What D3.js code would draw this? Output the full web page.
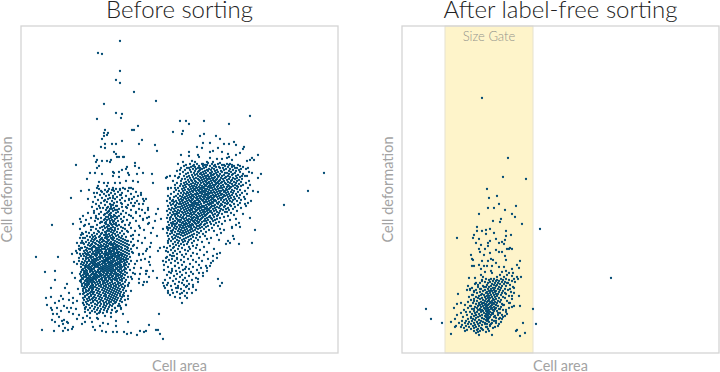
<!DOCTYPE html>
<html><head><meta charset="utf-8">
<script src="https://cdn.jsdelivr.net/npm/d3@7"></script>
<style>html,body{margin:0;background:#fff}svg{display:block}text{font-family:Lato,sans-serif}</style>
</head><body><svg id="c" width="720" height="372"></svg>
<script>
const titles=["Before sorting","After label-free sorting"];
const xLabel="Cell area", yLabel="Cell deformation", gateLabel="Size Gate";
const areaDomain=[0,317], deformDomain=[0,327];
const gateRange=[43,131];
const beforeSparse=[[99,312],[77,300],[81,299],[99,282],[95,273],[99,270],[113,261],[135,252],[83,249],[95,240],[101,239],[100,235],[76,234],[229,237],[159,232],[165,232],[168,229],[183,232],[208,229],[117,227],[111,223],[113,223],[84,223],[83,220],[87,220],[86,218],[83,217],[81,214],[162,222],[161,219],[152,221],[183,219],[179,217],[195,217],[199,214],[121,213],[101,212],[118,209],[91,209],[95,209],[84,209],[182,210],[189,210],[203,209],[208,209],[213,211],[215,208],[134,208],[136,202],[80,206],[84,205],[93,201],[95,199],[96,196],[98,196],[102,196],[103,196],[73,197],[76,193],[75,191],[81,192],[86,192],[89,191],[90,193],[55,188],[114,190],[114,187],[106,186],[105,184],[118,185],[78,187],[76,185],[101,183],[92,181],[98,181],[93,180],[69,180],[74,180],[81,179],[92,177],[98,176],[107,180],[108,178],[116,179],[122,180],[131,179],[66,174],[78,171],[83,170],[87,170],[94,170],[99,170],[105,172],[112,172],[117,171],[132,170],[77,167],[86,167],[92,165],[102,165],[110,165],[303,180],
[160,198],[168,201],[176,206],[181,205],[189,201],[192,202],[197,205],[201,201],[207,199],[208,196],[223,206],[222,204],[219,200],[215,198],[237,198],[231,195],[229,193],[233,193],[226,192],[211,193],[206,195],[201,194],[196,194],[189,195],[186,191],[177,198],[178,196],[168,197],[171,192],[174,191],[157,189],[162,191],[182,189],[187,190],[192,191],[199,190],[203,188],[211,188],[214,185],[227,185],[159,183],[166,185],[172,187],[179,185],[240,179],[231,180],[221,177],[224,177],[146,176],[149,177],[154,177],[145,175],[157,175],[237,175],[229,168],[216,167],[147,165],[154,165],
[287,162],[263,148],[50,155],[31,128],[52,129],[15,96],[37,96],[24,81],[34,82],[34,73],[30,65],[25,55],[30,56],[26,48],[30,45],[31,43],[36,45],[32,39],[36,39],[31,33],[34,31],[21,23],[33,22],[38,27],[41,32],[43,33],[46,31],[47,30],[42,29],[44,25],[42,22],[47,23],[51,24],[52,26],[40,57],[42,54],[44,65],[46,69],[48,60],[43,47],[46,45],[50,45],[55,44],[52,39],[56,34],[62,35],[61,29],[71,31],[72,26],[74,23],[79,27],[81,22],[85,21],[87,29],[95,32],[95,27],[92,21],[96,21],[103,21],[106,19],[110,20],[116,18],[119,22],[123,21],[125,22],[128,28],[107,31],[138,39],[135,23],[137,23],[139,19],[142,14],[102,39],[77,34],[82,30],[76,35],[69,35],[58,38],[48,41],[40,42],[38,36],[66,37],[84,37],[90,36],[64,31],[38,52],[34,50],[48,53],[52,50]];
const beforeExtra=[[60,162],[68,163],[67,154],[76,165],[81,161],[87,162],[92,163],[99,164],[108,165],[117,157],[122,154],[111,154],[114,150],[118,149],[123,152],[121,143],[127,143],[137,144],[135,139],[126,135],[122,134],[140,134],[134,132],[132,125],[128,130],[142,124],[136,117],[130,110],[126,104],[139,105],[143,106],[145,102],[147,112],[151,122],[147,125],[151,129],[149,155],[151,152],[154,147],[147,164],[156,139],[149,135],[146,125],
[59,134],[61,120],[59,115],[62,110],[55,102],[58,104],[51,99],[59,99],[53,91],[56,89],[51,80],[54,75],[59,72],[57,64],[59,59],[62,50],[64,45],[56,52],[52,55],[69,40],[76,39],[79,41],[86,42],[91,43],[94,45],[99,47],[107,54],[103,57],[107,67],[111,74],[112,80],[114,89],[118,99],[122,99],[120,93],[129,96],[128,91],[132,82],[126,82],[125,79],[118,70],[122,68],[126,71],[119,79],[136,75],[142,70],[143,67],[147,60],[142,92],[145,95],[137,102],[151,82],[154,87],[157,65],[161,50],[166,55],[161,60],[171,60],[166,67],[172,68],[177,74],[182,80],[189,87],[197,74],[201,70],[196,95],[192,92],[186,85],[196,99],[209,110],[207,112],[213,114],[218,109],[231,110],[234,123],[219,126],[229,135],[215,128],[211,125],[224,149],[227,150],[237,161],[152,105],[151,97],[156,94],[164,84],
[73,160],[88,158],[92,155],[83,152],[100,150],[95,147],[105,146],[79,145],[88,142],[100,139],[110,137],[75,135],[80,131],[95,128],[102,125],[106,122],[84,118],[70,126],[72,116],[106,112],[113,108],[116,105],[112,118],[119,125],[115,140],[120,160],[108,153],[112,147],[100,158],[90,148],[96,136],[102,132],[108,128],[73,140],[64,128],[68,120],[62,115],[56,110],[60,105],[65,99],[112,100],[116,92],[113,85],[110,76],[108,70],[110,62],[105,48],[100,44],[95,41],[90,40]];
const beforeRows=[
[189,[169,176,181,191,197,206,209]],
[188,[165,173,184,186,194,201,208,217]],
[187,[163,178,182,189,193,204,213,219]],
[186,[170,174,185,195,198,207,211,222]],
[185,[160,168,177,183,191,199,202,216]],
[184,[172,175,181,188,193,205,209,220,225]],
[183,[164,169,179,186,190,196,203,212,218]],
[182,[156,174,178,184,187,194,200,208,215]],
[181,[162,170,177,182,191,197,201,210,219,228]],
[180,[167,173,180,185,189,195,204,206,214]],
[179,[159,165,176,179,183,190,193,199,208,212,222]],
[178,[171,174,181,187,192,196,203,211,217]],
[177,[163,168,177,184,186,190,198,201,207,215,226]],
[176,[158,166,172,179,182,188,194,197,205,209,219]],
[175,[169,175,180,185,191,193,200,204,212,216]],
[174,[161,164,173,177,183,187,189,196,202,208,214,221]],
[173,[167,170,178,181,186,192,195,199,206,211,218]],
[172,[152,160,171,174,179,184,190,193,198,203,210,216,228]],
[171,[165,168,175,182,185,188,194,197,201,207,213,220]],
[170,[156,163,172,177,180,187,191,196,200,204,209,215,225]],
[169,[160,166,170,174,183,186,189,195,198,205,211,218]],
[168,[154,164,168,176,179,184,192,194,202,207,214,222]],
[167,[159,162,171,173,181,185,188,190,197,200,208,212,220]],
[166,[165,169,175,178,183,187,193,196,203,206,210,217]],
[165,[150,157,163,172,176,180,182,189,191,199,201,209,214,227]],
[164,[78,88,95,104,112,161,167,170,174,179,184,186,194,197,205,208,216]],
[163,[84,91,99,155,164,168,173,177,181,188,192,195,202,206,211,219]],
[162,[80,93,107,158,162,171,175,178,183,185,190,198,200,204,213,224,232]],
[161,[86,97,115,153,166,169,172,180,182,187,193,196,203,207,210,217]],
[160,[76,90,101,160,163,167,176,179,184,189,191,194,199,205,212,221]],
[159,[83,94,110,150,157,165,170,174,177,181,186,188,197,201,208,215,226]],
[158,[79,88,99,120,162,168,172,175,183,185,192,195,200,203,206,211,219]],
[157,[85,92,105,147,155,159,166,171,178,180,187,190,194,198,204,209,216]],
[156,[74,96,113,153,161,164,169,173,176,182,184,189,193,196,202,207,213,223]],
[155,[81,89,101,157,163,167,170,175,179,186,188,191,199,201,210,218]],
[154,[87,94,108,125,149,160,165,172,177,180,183,187,192,197,205,208,214,224]],
[153,[77,84,99,152,158,162,168,171,176,181,185,190,194,200,203,212,220]],
[152,[91,104,116,146,155,161,166,169,174,178,182,188,193,195,206,209,216,230]],
[151,[72,86,96,153,159,164,170,173,179,184,186,191,198,202,211]],
[150,[80,93,110,149,156,162,167,171,175,177,183,189,192,196,204,207,219]],
[149,[75,89,101,122,152,158,160,165,172,174,180,187,190,197,200,206,213]],
[148,[84,92,107,150,155,163,168,170,176,178,185,188,194,201,209,217]],
[147,[78,96,113,147,154,161,166,171,173,181,183,191,193,199,204,210,225]],
[146,[71,87,90,101,157,159,164,169,175,179,182,186,190,196,203,214]],
[145,[82,86,93,106,127,151,155,162,167,172,177,180,184,189,194,198,207,220]],
[144,[76,89,91,98,118,148,153,160,165,170,174,178,185,187,192,200,205,212]],
[143,[85,94,96,110,150,157,163,168,171,176,181,183,188,195,202,208]],
[142,[73,88,92,102,146,154,159,166,169,175,179,186,190,193,199,216]],
[141,[80,87,97,115,152,156,161,164,172,174,182,184,189,196,204,206]],
[140,[67,86,90,95,105,124,149,158,162,167,170,177,180,187,191,198,210]],
[139,[78,84,89,100,153,155,165,169,173,178,183,186,194,201,222]],
[138,[83,88,93,108,147,151,160,163,171,175,181,185,192,197,213]],
[137,[62,75,90,94,98,119,154,157,166,168,176,179,184,189,196,207]],
[136,[85,87,92,103,128,150,159,162,170,173,177,182,188,193,203]],
[135,[70,80,90,96,112,146,155,161,165,172,175,181,186,190,199]],
[134,[77,84,88,94,100,152,156,163,168,171,177,180,184,191,196,215]],
[133,[65,83,86,91,106,122,149,158,160,166,170,174,179,187,194,209]],
[132,[74,89,93,97,115,154,157,164,167,172,176,183,185,192,204]],
[131,[60,81,85,92,101,147,152,159,162,169,173,178,181,189,198]],
[130,[79,84,89,95,109,150,156,161,165,168,174,177,186,195,218]],
[129,[68,85,90,93,127,153,155,163,166,171,175,180,184,190,201]],
[128,[76,87,91,98,104,148,158,160,164,169,172,179,183,193]],
[127,[63,83,88,96,118,151,154,162,167,170,176,178,187,197]],
[126,[72,81,86,92,100,146,156,159,165,168,173,181,185,211]],
[125,[79,84,90,94,110,149,153,161,163,170,175,179,191]],
[124,[59,75,87,89,97,104,155,158,166,171,177,183,199]],
[123,[70,82,91,94,123,147,152,160,164,169,174,188,203]],
[122,[77,86,88,93,101,114,150,157,162,167,172,180,193]],
[121,[65,78,84,90,96,107,154,159,165,170,176,185]],
[120,[73,81,85,92,99,130,146,151,161,163,168,178,200]],
[119,[62,76,80,88,94,103,149,156,158,166,173,182]],
[118,[60,71,83,86,91,97,118,153,160,164,171,176,196]],
[117,[66,74,79,89,95,101,110,147,155,162,169,184,212]],
[116,[69,78,85,87,92,98,105,151,157,167,172,179]],
[115,[64,75,81,84,90,93,100,124,154,159,165,175,190]],
[114,[71,74,80,86,91,96,102,112,148,152,163,170,186]],
[113,[67,73,79,82,88,92,98,104,156,161,168,177,198]],
[112,[61,70,76,83,87,94,100,107,117,150,158,164,173]],
[111,[65,72,78,81,85,90,96,102,110,154,162,167,181]],
[110,[60,68,74,79,86,89,93,98,104,121,147,157,171,188]],
[109,[63,71,75,83,88,91,94,100,106,152,160,166,205]],
[108,[67,70,77,80,85,90,92,96,102,108,155,163,176]],
[107,[58,69,73,78,82,87,92,95,98,104,112,149,158,172]],
[106,[64,72,74,80,84,86,93,97,100,106,129,153,168,183]],
[105,[61,66,71,76,78,84,89,91,95,101,107,146,161,175]],
[104,[68,70,75,81,83,87,92,94,98,104,110,157,169,193]],
[103,[59,65,71,77,79,85,89,93,96,100,106,150,164,179]],
[102,[63,66,74,76,80,85,88,91,96,102,108,125,154,167]],
[101,[69,72,78,81,84,88,90,93,98,104,111,147,159,186]],
[100,[56,64,67,75,77,81,86,90,95,97,100,106,152,172,199]],
[99,[62,71,73,79,83,85,88,92,94,97,102,108,156,165,176]],
[98,[66,68,74,76,79,85,87,90,94,99,101,104,118,149,161,183]],
[97,[60,63,70,75,81,84,87,92,96,98,101,106,153,170,192]],
[96,[65,69,72,78,80,84,89,91,94,98,103,109,146,163]],
[95,[58,67,70,76,79,82,86,88,91,96,100,105,156,178]],
[94,[62,65,73,75,79,85,87,89,93,98,102,107,124,151,167,187]],
[93,[68,71,74,77,83,85,87,92,96,100,103,105,148,160,172]],
[92,[58,64,68,72,75,81,84,86,90,94,99,103,110,154,181]],
[91,[61,66,70,73,79,82,84,88,92,97,101,106,145,163,175]],
[90,[63,66,71,74,77,83,87,89,91,95,99,104,150,157,190]],
[89,[60,69,72,75,78,81,85,90,94,96,98,103,108,169]],
[88,[62,65,68,73,76,79,84,88,92,96,100,105,129,143,161,178]],
[87,[64,67,71,74,77,82,86,90,94,99,103,154,185]],
[86,[60,65,69,74,76,80,84,88,92,97,101,107,147,165,172]],
[85,[64,67,70,73,78,82,86,90,95,99,104,120,158,180]],
[84,[62,68,71,73,79,81,84,88,92,96,100,105,151,168]],
[83,[61,65,69,71,77,82,86,90,94,98,103,109,143,162,176]],
[82,[63,66,70,74,77,80,84,88,92,97,101,125,155,186]],
[81,[60,64,69,72,76,79,82,86,90,94,99,104,148,159,170]],
[80,[63,66,72,75,78,83,87,91,95,100,106,150,165,178]],
[79,[59,64,67,71,74,80,85,89,93,97,102,114,156,172]],
[78,[62,66,70,73,76,79,82,86,90,95,99,104,146,161]],
[77,[60,65,68,74,77,80,84,88,92,97,101,153,168,182]],
[76,[63,65,69,72,75,78,83,87,91,95,100,107,128,159]],
[75,[61,67,70,73,76,81,85,89,94,98,103,149,164,175]],
[74,[62,66,68,72,74,80,84,88,92,96,101,118,155]],
[73,[60,65,69,71,75,78,81,85,90,94,99,105,144,162,171]],
[72,[64,67,70,72,78,83,87,91,96,101,152,166]],
[71,[60,66,69,73,76,79,82,86,91,97,104,123,158,177]],
[70,[63,67,71,74,79,84,89,94,99,147,161]],
[69,[61,65,68,71,77,82,87,92,97,102,154,168]],
[68,[64,67,72,75,80,85,90,95,100,107,146,163]],
[67,[61,66,70,72,78,83,88,93,98,104,150,157,199]],
[66,[63,66,69,74,80,85,90,95,101,165,172]],
[65,[64,70,72,76,82,87,92,97,103,144,155]],
[64,[62,68,72,78,84,89,94,99,160,168]],
[63,[65,68,71,75,81,86,91,96,102,151,175]],
[62,[62,67,71,77,83,88,93,98,105,147,163]],
[61,[65,70,73,79,85,90,95,100,156]],
[60,[63,69,72,76,82,87,92,97,103,152,166]],
[59,[62,67,72,78,84,89,94,99,159]],
[58,[66,70,74,80,85,91,96,102,149]],
[57,[64,70,77,83,88,93,99,107,164]],
[56,[64,68,73,79,85,90,95,101,154]],
[55,[62,68,72,75,81,87,92,97,159]],
[54,[66,71,78,84,89,94,100]],
[53,[63,69,74,80,86,91,96,104]],
[52,[67,72,76,82,88,93,99]],
[51,[65,72,79,85,90,95,101]],
[50,[62,70,77,83,88,94]],
[49,[66,74,80,86,92,98]],
[48,[63,68,76,83,89,105]],
[47,[71,79,85,91,97]],
[46,[65,74,82,88]],
[45,[69,77,84,94,100]],
[44,[64,73,80,87]],
[43,[67,76,83,91]],
[42,[71,79,96]],
[41,[64,74,86]],
[40,[69,78,82]]];
const afterSparse=[[80,255],[106,195],[101,176],[124,174],[85,164],[95,157],[87,155],[97,149],[114,147],[86,145],[92,145],[103,143],[110,139],[77,139],[113,136],[99,134],[91,132],[98,131],[120,129],[138,124],[75,126],[75,122],[80,122],[84,123],[88,124],[92,120],[104,122],[109,118],[104,117],[72,118],[71,115],[55,115],[77,114],[84,119],[94,114],[103,113],[88,112],[86,110],[97,110],[100,111],[102,109],[74,110],[79,108],[77,104],[78,101],[86,107],[83,104],[94,103],[97,101],[100,101],[105,104],[107,104],[110,104],[108,105],[82,98],[88,100],[69,98],[70,94],[71,93],[103,97],[104,93],[118,92],[89,94],[91,93],[86,92],[94,90],[80,92],[77,88],[70,87],[72,87],[82,87],[85,87],[90,87],[97,86],[102,86],[110,84],[115,88],[117,85],[79,84],[83,81],[89,82],[104,82],[100,81],[107,80],[111,80],[73,75],[67,75],[79,78],[81,76],[90,80],[110,77],[115,76],[119,76],[98,78],[95,76],[102,76],[105,78],
[209,75],[131,44],[24,44],[29,34],[40,30],[134,29],[121,30],[123,20],[118,17],[115,23],[114,22],[49,19],[49,31],[53,34],[55,38],[52,45],[55,49],[59,50],[56,59],[117,57],[118,47],[105,39],[112,47],[110,57],[112,65],[116,74],[90,18],[77,18],[63,22],[53,26],[54,27],[66,67],[65,63],
[72,62],[76,68],[70,58],[78,64],[74,70],[80,72],[68,64],[76,55],[72,52],[79,58],[82,66],[77,49],[68,47],[72,44],[64,41],[94,48],[98,44],[101,48],[96,40],[100,38],[104,43],[92,36],[94,32],[98,35],[103,37],[90,30],[97,29],[88,27],[93,26],[85,26],[80,24],[100,34],[107,50],[110,46],[103,60],[108,64],[106,70],[112,60],[91,40],[93,44],[88,62],[83,56],[81,50],[78,43],[74,38],[80,35],[75,31],[69,35],[86,33],[83,29]];
const afterRows=[
[74,[84,89,92,99,104,112]],[73,[80,87,95,101,107]],[72,[91,94,97,110]],[71,[83,88,100,103,113]],[70,[78,86,93,96,105]],[69,[73,90,98,102]],
[68,[85,92,95,108]],[67,[81,89,94,100,104]],[66,[76,84,87,97,111]],[65,[70,91,93,99]],[64,[79,86,89,96,103]],[63,[68,74,83,92,98,106]],
[62,[81,87,90,94,101]],[61,[72,78,85,93,97,109]],[60,[75,84,88,91,100]],[59,[80,86,94,96,104]],[58,[71,82,89,92,99]],[57,[77,85,87,95,107]],
[56,[67,74,83,90,93,101]],[55,[80,86,88,97,103]],[54,[72,78,84,91,94,110]],[53,[69,81,87,92,99]],[52,[75,83,86,90,96,105]],[51,[66,79,85,88,93,98]],
[50,[71,77,82,89,91,95,108]],[49,[74,80,84,87,92,100]],[48,[63,78,83,86,90,94,102]],[47,[69,76,81,85,89,96]],[46,[73,79,84,88,92,99]],[45,[66,75,82,86,90,94,107]],
[44,[70,78,83,85,89,93,97]],[43,[62,76,80,87,91,101]],[42,[72,81,84,86,92,95]],[41,[68,75,79,85,88,104]],[40,[59,73,82,86,90,98]],[39,[70,77,84,87,91]],
[38,[65,74,80,85,89,96]],[37,[72,78,83,86,93]],[36,[61,69,76,84,88,101]],[35,[74,80,85,87,94]],[34,[66,71,82,86,97]],[33,[73,77,84,90]],
[32,[60,64,70,79,85,92]],[31,[67,75,81,87,99]],[30,[57,63,72,78,83,94]],[29,[66,69,76,85,89]],[28,[60,73,80,88]],[27,[64,71,77,96]],
[26,[59,67,74,84]],[25,[62,72,79,91]],[24,[69,76,86]],[23,[65,75,81]],[22,[72,78,87]],[21,[76,84]],[20,[74]]];
const flat=(pts,rows)=>pts.concat(rows.flatMap(([d,as])=>as.map(a=>[a,d])));
const panels=[{x:21,title:titles[0],data:flat(beforeSparse.concat(beforeExtra),beforeRows),gate:false},{x:402,title:titles[1],data:flat(afterSparse,afterRows),gate:true}];
const plotW=317,plotH=327,plotTop=26;
const svg=d3.select("#c");
const sx=d3.scaleLinear().domain(areaDomain).range([0,plotW]);
const sy=d3.scaleLinear().domain(deformDomain).range([plotH,0]);
panels.forEach(p=>{
 const g=svg.append("g").attr("transform",`translate(${p.x},${plotTop})`);
 if(p.gate){
  g.append("rect").attr("x",sx(gateRange[0])).attr("y",0).attr("width",sx(gateRange[1])-sx(gateRange[0])).attr("height",plotH).attr("fill","#fef4ca").attr("stroke","#e6e2cf").attr("stroke-width",1);
  g.append("text").attr("x",(sx(gateRange[0])+sx(gateRange[1]))/2).attr("y",15).attr("text-anchor","middle").attr("font-size",13).attr("font-weight",300).attr("fill","#94948c").text(gateLabel);
 }
 g.append("rect").attr("width",plotW).attr("height",plotH).attr("fill","none").attr("stroke","#d4d4d4").attr("stroke-width",1.3);
 g.selectAll("circle").data(p.data).join("circle").attr("cx",d=>sx(d[0])).attr("cy",d=>sy(d[1])).attr("r",1.15).attr("fill","#004a73");
 g.append("text").attr("x",plotW/2).attr("y",-8).attr("text-anchor","middle").attr("font-size",24).attr("font-weight",300).attr("fill","#222").text(p.title);
 g.append("text").attr("x",plotW/2).attr("y",plotH+18).attr("text-anchor","middle").attr("font-size",14.5).attr("fill","#a3a3a3").text(xLabel);
 g.append("text").attr("transform",`translate(-9,${plotH/2}) rotate(-90)`).attr("text-anchor","middle").attr("font-size",14.5).attr("fill","#a3a3a3").text(yLabel);
});
</script></body></html>
